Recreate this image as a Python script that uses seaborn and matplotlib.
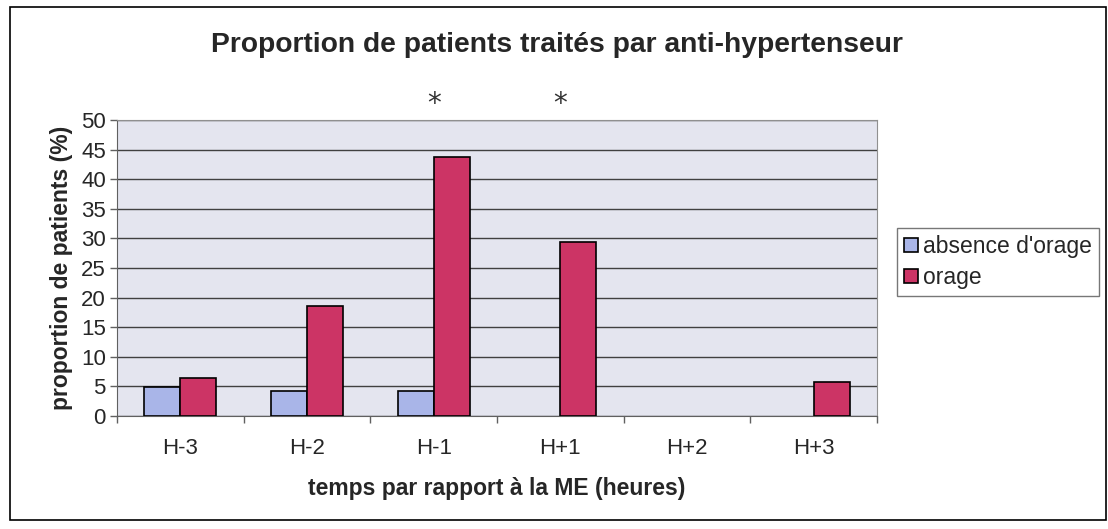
import pandas as pd
import matplotlib.pyplot as plt
import matplotlib.patches as mpatches
import seaborn as sns

# data
categories = ["H-3", "H-2", "H-1", "H+1", "H+2", "H+3"]
absence_orage = [4.9, 4.2, 4.2, 0, 0, 0]
orage = [6.5, 18.6, 43.8, 29.4, 0, 5.7]
series_names = ["absence d'orage", "orage"]
significant = ["H-1", "H+1"]
y_ticks = list(range(0, 55, 5))

df = pd.DataFrame({
    "temps": categories * 2,
    "proportion": absence_orage + orage,
    "groupe": [series_names[0]] * len(categories) + [series_names[1]] * len(categories),
})

sns.set_style("white")
plt.rcParams["font.family"] = ["Liberation Sans", "DejaVu Sans"]

fig = plt.figure(figsize=(11.08, 5.29), dpi=100)
ax = fig.add_axes([0.1056, 0.2136, 0.686, 0.5596])
ax.set_facecolor("#e4e5ef")

colors = ["#a9b5e8", "#cc3465"]
palette = dict(zip(series_names, colors))
sns.barplot(data=df, x="temps", y="proportion", hue="groupe", order=categories,
            hue_order=series_names, palette=palette, width=0.57, saturation=1,
            edgecolor="black", linewidth=1.2, ax=ax, zorder=3, legend=False)

# hide zero-height bars
for bar in ax.patches:
    if bar.get_height() == 0:
        bar.set_visible(False)

ax.set_ylim(0, 50)
ax.set_xlim(-0.5, len(categories) - 0.5)
ax.set_yticks(y_ticks)
ax.yaxis.grid(True, color="#404040", linewidth=1)
ax.set_axisbelow(True)
for side in ["top", "right"]:
    ax.spines[side].set_color("#909090")
for side in ["left", "bottom"]:
    ax.spines[side].set_color("#606060")

ax.tick_params(axis="y", which="major", left=True, length=5, width=1, labelsize=16, color="#606060", pad=3)
ax.set_xticks(range(len(categories)))
ax.set_xticklabels(categories)
ax.set_xticks([i - 0.5 for i in range(len(categories) + 1)], minor=True)
ax.tick_params(axis="x", which="major", bottom=False, length=0, pad=16, labelsize=16)
ax.tick_params(axis="x", which="minor", bottom=True, length=5, width=1, color="#606060")

ax.set_xlabel("temps par rapport à la ME (heures)", fontsize=16.5, fontweight="bold", labelpad=13)
ax.set_ylabel("proportion de patients (%)", fontsize=16.5, fontweight="bold", labelpad=6)

# significance markers
for cat in significant:
    ax.text(categories.index(cat), 1.055, "*", transform=ax.get_xaxis_transform(),
            ha="center", va="center", fontsize=20, color="#333333", family="DejaVu Sans")

fig.suptitle("Proportion de patients traités par anti-hypertenseur",
             x=0.503, y=0.915, va="center", fontsize=20.3, fontweight="bold")

handles = [mpatches.Patch(facecolor=c, edgecolor="black", linewidth=1.2) for c in colors]
leg = ax.legend(handles, series_names, loc="upper left", bbox_to_anchor=(897 / 1108, 1 - 228 / 529),
                bbox_transform=fig.transFigure,
                fontsize=16.5, frameon=True, fancybox=False, handlelength=0.6, handleheight=0.6,
                handletextpad=0.25, borderpad=0.3, labelspacing=0.35, borderaxespad=0)
leg.get_frame().set_edgecolor("#555555")
leg.get_frame().set_linewidth(1)

# outer chart border
fig.patches.append(mpatches.Rectangle((10 / 1108, 9 / 529), 1096 / 1108, 513 / 529,
                                      transform=fig.transFigure, fill=False,
                                      edgecolor="black", linewidth=1.2))

fig.savefig("out.png", dpi=100)
